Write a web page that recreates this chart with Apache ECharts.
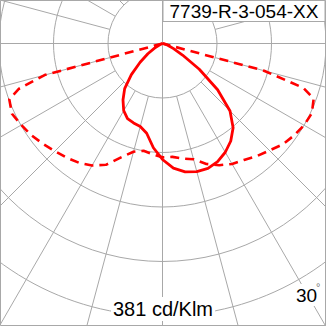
<!DOCTYPE html>
<html>
<head>
<meta charset="utf-8">
<script src="https://cdn.jsdelivr.net/npm/echarts/dist/echarts.min.js"></script>
<style>
html,body{margin:0;padding:0;background:#fff;}
#c{width:326px;height:326px;}
</style>
</head>
<body>
<div id="c"></div>
<script>
// Gamma angles (degrees from nadir)
const gammaDeg = [0,5,10,15,20,25,30,35,40,45,50,55,60,65,70,72.5,75,77.5,80,85,90];
// Intensities in cd/klm
const solidLeft  = [266,240,209,197,194,190,178,158,135,101,67,41,21,7,0,0,0,0,0,0,0];
const solidRight = [266,287,299,304,305,299,288,273,252,219,165,103,53,28,15,10,6,2,0,0,0];
const dashLeft   = [261,255,250,257,278,307,323,334,342,349,358,367,374,381,374,345,280,0,0,0,0];
const dashRight  = [261,261,268,275,294,308,319,326,337,347,360,368,375,378,369,339,241,0,0,0,0];
const ringStep = 125;      // cd/klm per ring
const ringCount = 6;
const titleText = '7739-R-3-054-XX';
const unitText = '381 cd/Klm';
const angleText = '30';

function plane(left, right) {
  const pts = [];
  for (let i = gammaDeg.length - 1; i >= 0; i--) pts.push([left[i], gammaDeg[i]]);
  for (let i = 1; i < gammaDeg.length; i++) pts.push([right[i], 360 - gammaDeg[i]]);
  return pts;
}

const GRID = '#a8a8a8';
const CX = 162.5, CY = 43.5, RING = 54.5;
const font = "'Liberation Sans', Arial, sans-serif";

const chart = echarts.init(document.getElementById('c'), null, {renderer: 'svg'});
chart.setOption({
  backgroundColor: '#fff',
  animation: false,
  polar: [
    {center: [CX, CY], radius: [RING, RING * ringCount]},
    {center: [CX, CY], radius: [0, RING * ringCount]}
  ],
  angleAxis: [
    {polarIndex: 0, type: 'value', min: 0, max: 360, interval: 15, startAngle: 270,
     axisLine: {show: false}, axisTick: {show: false}, axisLabel: {show: false},
     splitLine: {show: true, lineStyle: {color: GRID, width: 1}}},
    {polarIndex: 1, type: 'value', min: 0, max: 360, interval: 90, startAngle: 270,
     axisLine: {show: false}, axisTick: {show: false}, axisLabel: {show: false},
     splitLine: {show: true, lineStyle: {color: GRID, width: 1}}}
  ],
  radiusAxis: [
    {polarIndex: 0, type: 'value', min: 0, max: ringCount - 1, interval: 1,
     axisLine: {show: false}, axisTick: {show: false}, axisLabel: {show: false},
     splitLine: {show: true, lineStyle: {color: GRID, width: 1}}},
    {polarIndex: 1, type: 'value', min: 0, max: ringStep * ringCount, interval: ringStep,
     axisLine: {show: false}, axisTick: {show: false}, axisLabel: {show: false},
     splitLine: {show: false}}
  ],
  title: [
    {text: titleText, left: 162.5, top: 0, padding: [1, 7, 1, 7],
     backgroundColor: '#fff', borderColor: GRID, borderWidth: 1,
     textStyle: {fontFamily: font, fontSize: 19, fontWeight: 'normal', color: '#000', lineHeight: 20}},
    {text: unitText, left: 'center', top: 297, padding: [1, 2, 1, 2],
     backgroundColor: '#fff',
     textStyle: {fontFamily: font, fontSize: 20, fontWeight: 'normal', color: '#000', lineHeight: 22}},
    {text: angleText, left: 295, top: 284, padding: [1, 1, 1, 1],
     backgroundColor: '#fff',
     textStyle: {fontFamily: font, fontSize: 19, fontWeight: 'normal', color: '#000', lineHeight: 20}},
    {text: '°', left: 316, top: 281, padding: 0,
     textStyle: {fontFamily: font, fontSize: 11, fontWeight: 'normal', color: '#777', lineHeight: 12}}
  ],
  graphic: [
    {type: 'rect', silent: true, z: 100,
     shape: {x: 0.5, y: 0.5, width: 325, height: 325},
     style: {fill: 'none', stroke: GRID, lineWidth: 1}}
  ],
  series: [
    {type: 'line', coordinateSystem: 'polar', polarIndex: 1, symbol: 'none',
     data: plane(dashLeft, dashRight),
     lineStyle: {color: '#ff0000', width: 2.6, type: [9, 6]}},
    {type: 'line', coordinateSystem: 'polar', polarIndex: 1, symbol: 'none',
     data: plane(solidLeft, solidRight),
     lineStyle: {color: '#ff0000', width: 2.8, type: 'solid'}}
  ]
});
</script>
</body>
</html>
